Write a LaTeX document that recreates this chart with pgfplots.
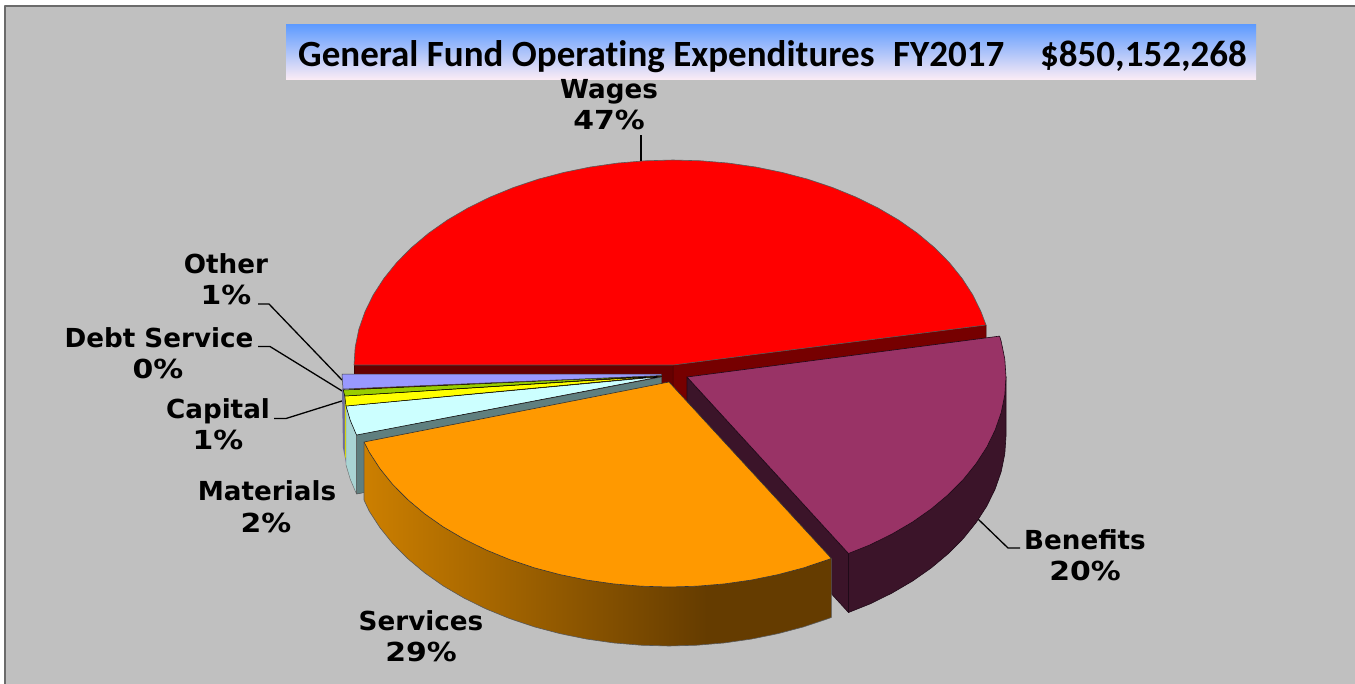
\documentclass[border=0pt]{standalone}
\usepackage{fontspec}
\usepackage{graphicx}
\setmainfont{DejaVu Sans}
\newfontfamily\titlefont[Ligatures=NoCommon]{Carlito}
\usepackage{pgfplots}
\pgfplotsset{compat=1.18}
\definecolor{bgc}{HTML}{C0C0C0}
\definecolor{framec}{HTML}{6B6B6B}
\definecolor{redS}{HTML}{660000}
\definecolor{redT}{HTML}{760000}
\definecolor{benT}{HTML}{993366}
\definecolor{benS}{HTML}{3B1429}
\definecolor{benL}{HTML}{1F0A18}
\definecolor{org}{HTML}{FF9900}
\definecolor{orgL}{HTML}{CC7F00}
\definecolor{orgD}{HTML}{653C00}
\definecolor{matT}{HTML}{CCFFFF}
\definecolor{matS}{HTML}{A9D4D4}
\definecolor{matC}{HTML}{5F7F7F}
\definecolor{othT}{HTML}{9999FF}
\definecolor{othS}{HTML}{6C6C9C}
\definecolor{debT}{HTML}{99CC00}
\definecolor{capT}{HTML}{FFFF00}
\definecolor{ttop}{HTML}{5C9AFF}
\definecolor{tbot}{HTML}{FAEBF5}
\newcommand{\lab}[1]{\fontsize{26.2}{31}\selectfont\bfseries #1}
\newcommand{\pct}[1]{\scalebox{1.14}[1]{\fontsize{26.2}{31}\selectfont\bfseries #1}}
\newcommand{\ttl}[1]{\titlefont\fontsize{37}{40}\selectfont\bfseries #1}
\tikzset{lb/.style={anchor=base,inner sep=0pt}}
\begin{document}
\begin{tikzpicture}
\begin{axis}[scale only axis,width=1355pt,height=683pt,xmin=0,xmax=1355,ymin=0,ymax=683,y dir=reverse,axis lines=none,
 every axis plot/.append style={line join=round}]
% page and frame
\addplot[fill=white,draw=none] coordinates {(0,0)(1355,0)(1355,683)(0,683)} --cycle;
\addplot[fill=bgc,draw=framec,line width=1.5pt] coordinates {(5,6)(1360,6)(1360,690)(5,690)} --cycle;
% title box
\addplot[top color=ttop,bottom color=tbot,draw=none] coordinates {(286,24)(1256,24)(1256,79)(286,79)} --cycle;
% leaders
\addplot[black,line width=1.3pt] coordinates {(641,135)(641,161)};
\addplot[black,line width=1.3pt] coordinates {(258,304)(269,304)(342,380)};
\addplot[black,line width=1.3pt] coordinates {(258,346.5)(270,346.5)(343,391.5)};
\addplot[black,line width=1.3pt] coordinates {(274,418.5)(286,418.5)(345,400)};
\addplot[black,line width=1.3pt] coordinates {(978,519)(1008,548)(1020,548)};
% Wages: side faces
\addplot[fill=redS,draw=redS!60!black,line width=0.5pt] coordinates {(354,365)(673,365)(673,424)(354,424)} --cycle;
\addplot[fill=redT,draw=redS!60!black,line width=0.5pt] coordinates {(673,365)(986,325)(986,384)(673,424)} --cycle;
% Wages: top
\addplot[fill=red,draw=black!65,line width=0.6pt] coordinates {(673,365)(354,365)(355.2,347.1)(358.8,329.4)(364.9,311.9)(373.2,294.9)(383.9,278.4)(396.7,262.5)(411.7,247.4)(428.6,233.2)(447.4,220)(467.9,208)(490,197.1)(513.5,187.5)(538.2,179.2)(563.9,172.4)(590.4,167)(617.6,163.1)(645.2,160.8)(673,160)(700.8,160.8)(728.4,163.1)(755.6,167)(782.1,172.4)(807.8,179.2)(832.5,187.5)(856,197.1)(878.1,208)(898.6,220)(917.4,233.2)(934.3,247.4)(949.3,262.5)(962.1,278.4)(972.8,294.9)(981.1,311.9)(986,325)} --cycle;
% Benefits: side faces
\addplot[fill=benS,draw=benL,line width=0.6pt] coordinates {(687,377)(848.5,553.5)(848.5,612.5)(687,436)} --cycle;
\addplot[fill=benS,draw=benL,line width=0.6pt] coordinates {(1006,377)(1006,436)(1004.8,453.9)(1001.2,471.6)(995.1,489.1)(986.8,506.1)(976.1,522.6)(963.3,538.5)(948.3,553.6)(931.4,567.8)(912.6,581)(892.1,593)(870,603.9)(848.5,612.5)(848.5,553.5)} --cycle;
% Benefits: top
\addplot[fill=benT,draw=benL,line width=0.6pt] coordinates {(687,377)(999.6,336.1)(1001.2,341.4)(1004.8,359.1)(1006,377)(1004.8,394.9)(1001.2,412.6)(995.1,430.1)(986.8,447.1)(976.1,463.6)(963.3,479.5)(948.3,494.6)(931.4,508.8)(912.6,522)(892.1,534)(870,544.9)(848.5,553.5)} --cycle;
% small slices: hidden slivers
\addplot[fill=othS,draw=none] coordinates {(342,389)(345,389)(346,463)(343,448)} --cycle;
\addplot[fill=capT!90!black,draw=none] coordinates {(344.8,396)(346,406)(346.5,462)(345,456)} --cycle;
% Materials: faces
\addplot[fill=matS,draw=black!60,line width=0.4pt] coordinates {(346,406)(350.3,420.4)(356.5,435)(356.5,494)(350.3,479.4)(346,465)} --cycle;
\addplot[fill=matC,draw=black!70,line width=0.5pt] coordinates {(661.7,377)(356.5,435)(356.5,494)(661.7,436)} --cycle;
\addplot[fill=matT,draw=black,line width=0.5pt] coordinates {(661.7,376.5)(346,406)(350.3,420.4)(356.5,435)} --cycle;
% Capital
\addplot[fill=capT,draw=black,line width=0.5pt] coordinates {(661.7,376)(344.8,396)(346,406)} --cycle;
% Debt Service
\addplot[fill=debT,draw=black,line width=0.5pt] coordinates {(661.7,375.5)(343.3,390)(344.8,396)} --cycle;
% Other
\addplot[fill=othT,draw=black!75,line width=0.5pt] coordinates {(661.7,374)(342,374)(343,389)(661.7,375.5)} --cycle;
% Services: side
\addplot[left color=orgL,right color=orgD,draw=none] coordinates {(364,442)(369.2,452.1)(379.9,468.6)(392.7,484.5)(407.7,499.6)(424.6,513.8)(443.4,527)(463.9,539)(486,549.9)(509.5,559.5)(534.2,567.8)(559.9,574.6)(586.4,580)(613.6,583.9)(641.2,586.2)(669,587)(696.8,586.2)(707,585.4)(707,644.4)(696.8,645.2)(669,646)(641.2,645.2)(613.6,642.9)(586.4,639)(559.9,633.6)(534.2,626.8)(509.5,618.5)(486,608.9)(463.9,598)(443.4,586)(424.6,572.8)(407.7,558.6)(392.7,543.5)(379.9,527.6)(369.2,511.1)(364,500)} --cycle;
\addplot[fill=orgD,draw=none] coordinates {(706.5,585.4)(724.4,583.9)(751.6,580)(778.1,574.6)(803.8,567.8)(828.5,559.5)(831.4,558.4)(831.4,617.4)(828.5,618.5)(803.8,626.8)(778.1,633.6)(751.6,639)(724.4,642.9)(706.5,644.4)} --cycle;
\addplot[draw=black!65,line width=0.6pt] coordinates {(364,442)(364,500)(369.2,511.1)(379.9,527.6)(392.7,543.5)(407.7,558.6)(424.6,572.8)(443.4,586)(463.9,598)(486,608.9)(509.5,618.5)(534.2,626.8)(559.9,633.6)(586.4,639)(613.6,642.9)(641.2,645.2)(669,646)(696.8,645.2)(724.4,642.9)(751.6,639)(778.1,633.6)(803.8,626.8)(828.5,618.5)(831.4,617.4)(831.4,558.4)};
% Services: top
\addplot[fill=org,draw=black!80,line width=0.6pt] coordinates {(669,382)(831.4,558.4)(828.5,559.5)(803.8,567.8)(778.1,574.6)(751.6,580)(724.4,583.9)(696.8,586.2)(669,587)(641.2,586.2)(613.6,583.9)(586.4,580)(559.9,574.6)(534.2,567.8)(509.5,559.5)(486,549.9)(463.9,539)(443.4,527)(424.6,513.8)(407.7,499.6)(392.7,484.5)(379.9,468.6)(369.2,452.1)(364,442)} --cycle;
% title text
\node[anchor=base west,inner sep=0pt] at (axis cs:298,66) {\ttl{General Fund Operating Expenditures}};
\node[anchor=base west,inner sep=0pt] at (axis cs:893,66) {\ttl{FY2017}};
\node[anchor=base east,inner sep=0pt] at (axis cs:1247,66) {\ttl{\$850,152,268}};
% data labels
\node[lb] at (axis cs:609,98) {\lab{Wages}};
\node[lb] at (axis cs:609,129.3) {\pct{47\%}};
\node[lb] at (axis cs:226,273.2) {\lab{Other}};
\node[lb] at (axis cs:226,304.3) {\pct{1\%}};
\node[lb] at (axis cs:159,347.2) {\lab{Debt Service}};
\node[lb] at (axis cs:158,378.5) {\pct{0\%}};
\node[lb] at (axis cs:218,418) {\lab{Capital}};
\node[lb] at (axis cs:218,449.5) {\pct{1\%}};
\node[lb] at (axis cs:267,500.5) {\lab{Materials}};
\node[lb] at (axis cs:266,532) {\pct{2\%}};
\node[lb] at (axis cs:421,630) {\lab{Services}};
\node[lb] at (axis cs:421,661.5) {\pct{29\%}};
\node[lb] at (axis cs:1085,549.5) {\lab{Benefits}};
\node[lb] at (axis cs:1085,580.5) {\pct{20\%}};
\end{axis}
\end{tikzpicture}
\end{document}
